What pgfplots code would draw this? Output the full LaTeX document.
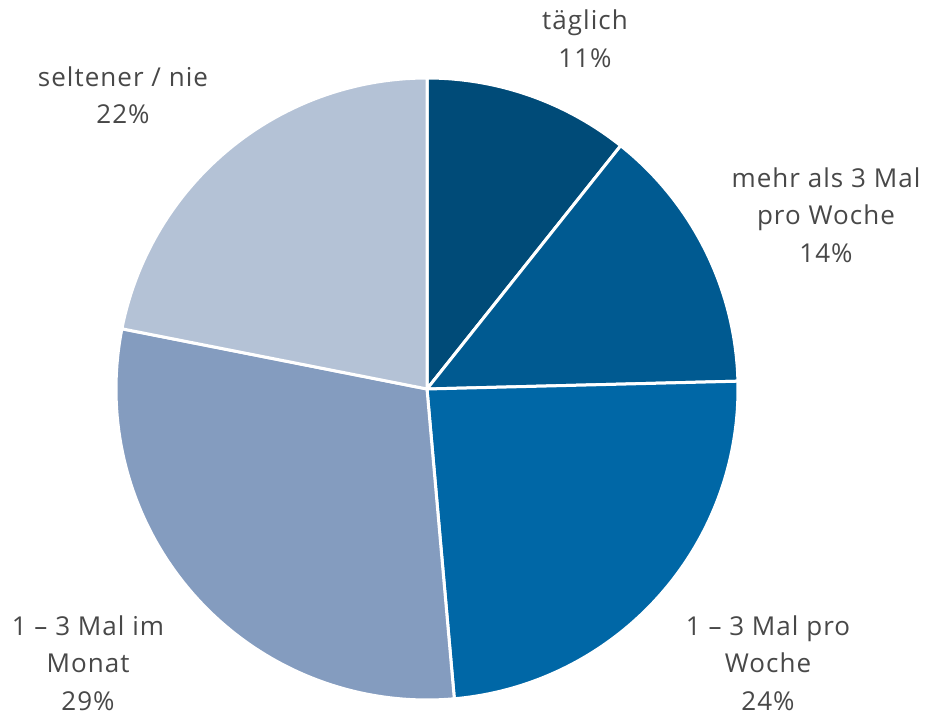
\documentclass[border=0pt]{standalone}
\usepackage{pgfplots}
\pgfplotsset{compat=1.18}
\usepackage{fontspec}
\setmainfont{Open Sans}[LetterSpace=4]
\definecolor{c1}{HTML}{004B78}
\definecolor{c2}{HTML}{005A91}
\definecolor{c3}{HTML}{0067A6}
\definecolor{c4}{HTML}{849CBF}
\definecolor{c5}{HTML}{B4C2D6}
\definecolor{txt}{HTML}{484848}
% shares (percent) of the five answers
\def\vA{10.7}\def\vB{13.9}\def\vC{24.0}\def\vD{29.5}\def\vE{21.9}
\pgfmathsetmacro{\aA}{90}
\pgfmathsetmacro{\aB}{\aA-3.6*\vA}
\pgfmathsetmacro{\aC}{\aB-3.6*\vB}
\pgfmathsetmacro{\aD}{\aC-3.6*\vC}
\pgfmathsetmacro{\aE}{\aD-3.6*\vD}
\pgfmathsetmacro{\aF}{\aE-3.6*\vE}
\begin{document}
\begin{tikzpicture}
\begin{axis}[
  scale only axis, width=925bp, height=716bp,
  xmin=-427, xmax=498, ymin=-327, ymax=389,
  hide axis, clip=false,
]
\addplot[fill=c1, draw=white, line width=3bp, data cs=polar, domain=\aB:\aA, samples=60] {311} -- (axis cs:0,0) -- cycle;
\addplot[fill=c2, draw=white, line width=3bp, data cs=polar, domain=\aC:\aB, samples=60] {311} -- (axis cs:0,0) -- cycle;
\addplot[fill=c3, draw=white, line width=3bp, data cs=polar, domain=\aD:\aC, samples=80] {311} -- (axis cs:0,0) -- cycle;
\addplot[fill=c4, draw=white, line width=3bp, data cs=polar, domain=\aE:\aD, samples=80] {311} -- (axis cs:0,0) -- cycle;
\addplot[fill=c5, draw=white, line width=3bp, data cs=polar, domain=\aF:\aE, samples=60] {311} -- (axis cs:0,0) -- cycle;
\tikzset{lbl/.style={align=center, text=txt, font=\fontsize{26bp}{37.5bp}\selectfont, inner sep=0pt}}
\node[lbl] at (axis cs:158,350) {täglich\\11\%};
\node[lbl] at (axis cs:399,174) {mehr als 3 Mal\\pro Woche\\14\%};
\node[lbl] at (axis cs:341,-274) {1 – 3 Mal pro\\Woche\\24\%};
\node[lbl] at (axis cs:-339,-274) {1 – 3 Mal im\\Monat\\29\%};
\node[lbl] at (axis cs:-304,293.5) {seltener / nie\\22\%};
\end{axis}
\pgfresetboundingbox
\path (current axis.south west) rectangle (current axis.north east);
\end{tikzpicture}
\end{document}
